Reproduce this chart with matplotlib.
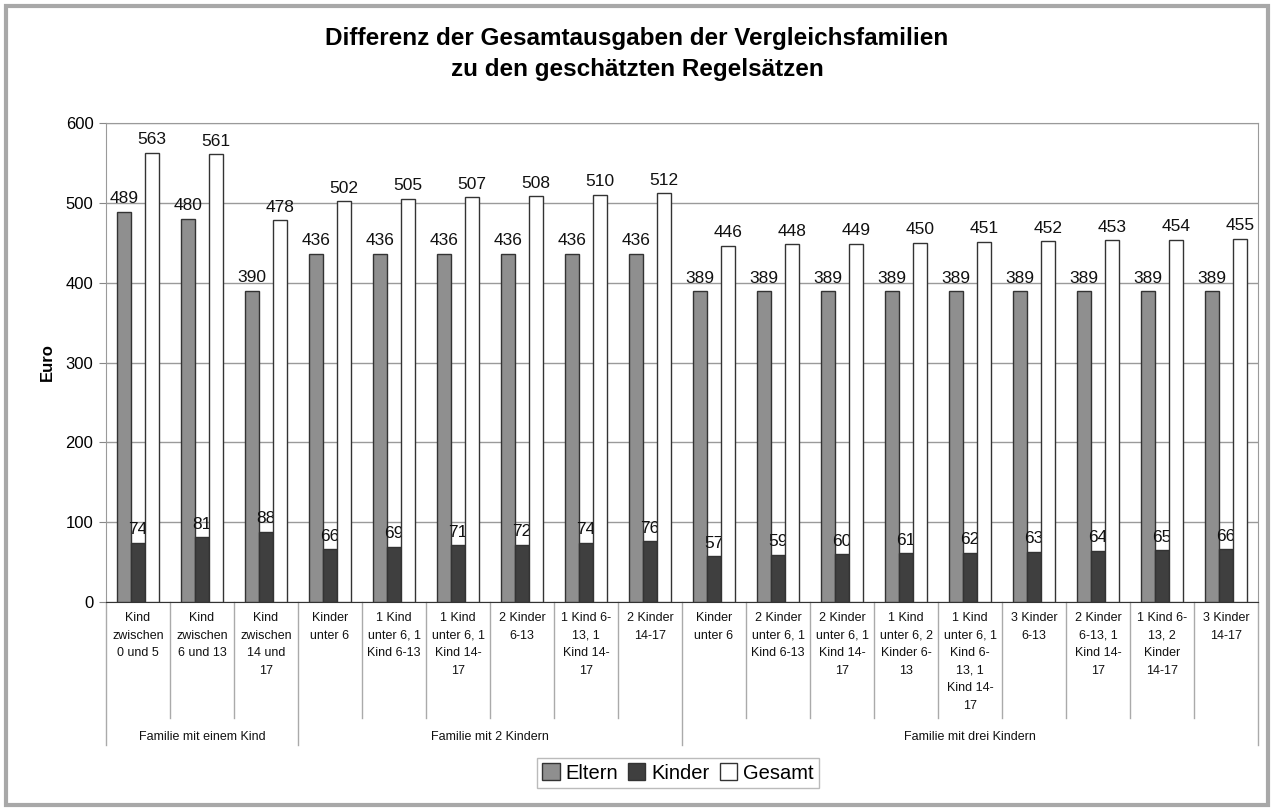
import numpy as np
import matplotlib.pyplot as plt
from matplotlib.patches import Rectangle
from matplotlib.lines import Line2D

plt.rcParams['font.family'] = ['Liberation Sans', 'DejaVu Sans']

kategorien = [
    "Kind\nzwischen\n0 und 5", "Kind\nzwischen\n6 und 13", "Kind\nzwischen\n14 und\n17",
    "Kinder\nunter 6", "1 Kind\nunter 6, 1\nKind 6-13", "1 Kind\nunter 6, 1\nKind 14-\n17",
    "2 Kinder\n6-13", "1 Kind 6-\n13, 1\nKind 14-\n17", "2 Kinder\n14-17",
    "Kinder\nunter 6", "2 Kinder\nunter 6, 1\nKind 6-13", "2 Kinder\nunter 6, 1\nKind 14-\n17",
    "1 Kind\nunter 6, 2\nKinder 6-\n13", "1 Kind\nunter 6, 1\nKind 6-\n13, 1\nKind 14-\n17",
    "3 Kinder\n6-13", "2 Kinder\n6-13, 1\nKind 14-\n17", "1 Kind 6-\n13, 2\nKinder\n14-17",
    "3 Kinder\n14-17",
]
gruppen = ["Familie mit einem Kind", "Familie mit 2 Kindern", "Familie mit drei Kindern"]
gruppen_groesse = [3, 6, 9]

eltern = [489, 480, 390, 436, 436, 436, 436, 436, 436,
          389, 389, 389, 389, 389, 389, 389, 389, 389]
kinder = [74, 81, 88, 66, 69, 71, 72, 74, 76,
          57, 59, 60, 61, 62, 63, 64, 65, 66]
gesamt = [563, 561, 478, 502, 505, 507, 508, 510, 512,
          446, 448, 449, 450, 451, 452, 453, 454, 455]

fig = plt.figure(figsize=(12.74, 8.11), dpi=100)
ax = fig.add_axes([106 / 1274, 1 - 602 / 811, 1152 / 1274, 479 / 811])

# Rahmen um die ganze Grafik
fig.patches.append(Rectangle((6 / 1274, 6 / 811), 1262 / 1274, 799 / 811,
                             transform=fig.transFigure, fill=False,
                             edgecolor='#a8a8a8', linewidth=3))

n = len(kategorien)
x = np.arange(n)
w = 0.219
serien = [(eltern, '#8f8f8f', 'Eltern'), (kinder, '#3f3f3f', 'Kinder'), (gesamt, 'white', 'Gesamt')]
for k, (werte, farbe, name) in enumerate(serien):
    b = ax.bar(x + (k - 1) * w, werte, w, color=farbe, edgecolor='#333333',
               linewidth=1.0, label=name, zorder=3)
    ax.bar_label(b, padding=4, fontsize=12.5, color='#111111')

ax.set_xlim(-0.5, n - 0.5)
ax.set_ylim(0, 600)
ax.set_yticks(range(0, 601, 100))
ax.tick_params(axis='y', labelsize=12, length=5, color='#888888', pad=4)
ax.set_xticks([])
ax.grid(axis='y', color='#9a9a9a', linewidth=1, zorder=0)
for s in ['top', 'right', 'left']:
    ax.spines[s].set_color('#9a9a9a')
ax.spines['bottom'].set_color('#333333')
ax.set_ylabel('Euro', fontsize=12, fontweight='bold', labelpad=8)

# Kategorien-Tabelle unter der Achse
trans = ax.get_xaxis_transform()
for i, lab in enumerate(kategorien):
    ax.text(i, -10 / 479, lab, transform=trans, ha='center', va='top',
            fontsize=9, linespacing=1.62, color='#111111')
grenzen = np.cumsum([0] + gruppen_groesse)
for j in range(n + 1):
    unten = 143 / 479 if j in grenzen else 116 / 479
    ax.add_line(Line2D([j - 0.5, j - 0.5], [0, -unten], transform=trans,
                       color='#aaaaaa', linewidth=1, clip_on=False))
for g, name in enumerate(gruppen):
    mitte = (grenzen[g] + grenzen[g + 1] - 1) / 2
    ax.text(mitte, -135 / 479, name, transform=trans, ha='center', va='center',
            fontsize=9, color='#111111')

fig.suptitle('Differenz der Gesamtausgaben der Vergleichsfamilien\nzu den geschätzten Regelsätzen',
             y=1 - 27 / 811, fontsize=17.5, fontweight='bold', linespacing=1.45)

leg = fig.legend(loc='center', bbox_to_anchor=(678 / 1274, 1 - 773 / 811), ncol=3,
                 fontsize=14.5, frameon=True, fancybox=False, edgecolor='#aaaaaa',
                 handlelength=0.85, handleheight=0.85, handletextpad=0.3,
                 columnspacing=0.5, borderpad=0.25)
leg.get_frame().set_linewidth(1)

fig.savefig('out.png', dpi=100)
